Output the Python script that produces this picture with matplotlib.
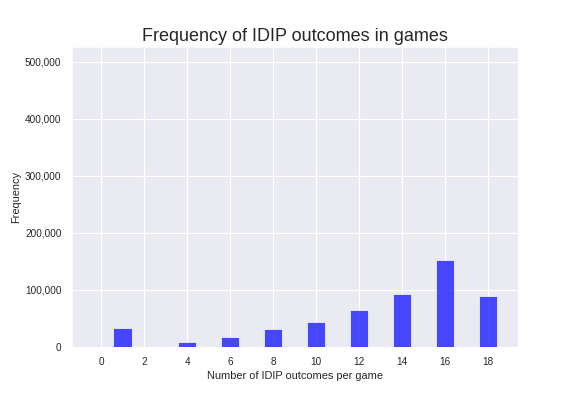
import matplotlib
matplotlib.use('Agg')
import matplotlib.pyplot as plt
import seaborn as sns
from matplotlib.ticker import FuncFormatter

# 게임당 IDIP 결과 수 → 빈도
outcomes = [1, 4, 6, 8, 10, 12, 14, 16, 18]
freq = [33000, 8800, 17500, 31500, 44000, 65000, 93000, 152000, 89500]
xticks = list(range(0, 20, 2))

sns.set_style('darkgrid')
plt.rcParams['font.family'] = ['Arial', 'Liberation Sans', 'DejaVu Sans']

fig, ax = plt.subplots(figsize=(8, 5.5), dpi=72)
fig.subplots_adjust(left=0.125, right=0.9, bottom=0.124, top=0.881)
ax.bar(outcomes, freq, width=0.85, color='blue', alpha=0.7)
ax.set_xticks(xticks)
ax.set_xlim(-1.35, 19.4)
ax.set_ylim(0, 526000)
ax.yaxis.set_major_formatter(FuncFormatter(lambda v, p: f'{int(v):,}'))
ax.tick_params(labelsize=10, pad=7)
ax.grid(lw=1.1)
ax.set_title('Frequency of IDIP outcomes in games', fontsize=18)
ax.set_xlabel('Number of IDIP outcomes per game', fontsize=11)
ax.set_ylabel('Frequency', fontsize=11)
fig.savefig('out.png', dpi=72)
